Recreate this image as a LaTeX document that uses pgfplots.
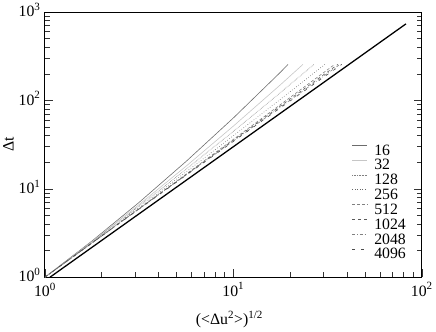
\documentclass[border=0pt]{standalone}
\usepackage{fontspec}
\setmainfont{Liberation Serif}
\usepackage{pgfplots}
\pgfplotsset{compat=1.18}

\begin{document}
\begin{tikzpicture}
\begin{axis}[
  scale only axis,
  width=381bp, height=268bp,
  xmode=log, ymode=log,
  xmin=1, xmax=100, ymin=1, ymax=1000,
  xtick={1,10,100}, ytick={1,10,100,1000},
  xticklabels={10\textsuperscript{0},10\textsuperscript{1},10\textsuperscript{2}},
  yticklabels={10\textsuperscript{0},10\textsuperscript{1},10\textsuperscript{2},10\textsuperscript{3}},
  tick label style={font=\fontsize{16}{17}\selectfont},
  xticklabel style={yshift=-2bp},
  yticklabel style={xshift=-1bp, yshift=2bp},
  xtick pos=bottom, ytick pos=both,
  tick align=inside,
  major tick length=8bp, minor tick length=5bp,
  axis line style={line width=0.8pt},
  every tick/.style={line width=0.6pt, black!80},
  xlabel={(<Δu\textsuperscript{2}>)\textsuperscript{1/2}},
  ylabel={Δt},
  label style={font=\fontsize{16}{17}\selectfont},
  xlabel style={yshift=-8bp, xshift=-4bp},
  ylabel style={yshift=-2bp},
  legend style={draw=none, fill=none, at={(0.814,0.50)}, anchor=north west,
    font=\fontsize{16}{17}\selectfont, row sep=4.7bp, column sep=7bp,
    inner sep=0pt, nodes={inner sep=0pt, text height=10bp, text depth=0bp}},
  legend cell align=left,
  legend image code/.code={\draw[#1] (0bp,5bp) -- (15bp,5bp);},
]
\addplot[gray!85!black, line width=0.6pt] coordinates {
  (1,1) (1.778,2.57) (3.162,7.03) (5.623,20.5) (10,63.4) (17.78,208.8) (19.5,256)
};
\addplot[gray!45, line width=0.6pt] coordinates {
  (1,1) (1.778,2.53) (3.162,6.64) (5.623,18.1) (10,51.3) (17.78,150.6) (23.4,256)
};
\addplot[gray, line width=0.6pt, densely dotted] coordinates {
  (1,1) (1.778,2.50) (3.162,6.39) (5.623,16.7) (10,44.8) (17.78,123) (26.8,256)
};
\addplot[gray!80!black, line width=0.6pt, dotted] coordinates {
  (1,1) (1.778,2.47) (3.162,6.17) (5.623,15.6) (10,39.9) (17.78,103.2) (30.6,256)
};
\addplot[gray, line width=0.6pt, densely dashed] coordinates {
  (1,1) (1.778,2.44) (3.162,5.99) (5.623,14.7) (10,36.3) (17.78,89.8) (34.5,256)
};
\addplot[gray!70!black, line width=0.6pt, dashed] coordinates {
  (1,1) (1.778,2.44) (3.162,5.96) (5.623,14.5) (10,35.5) (17.78,86.6) (35.9,256)
};
\addplot[gray, line width=0.6pt, dash dot] coordinates {
  (1,1) (1.778,2.44) (3.162,5.93) (5.623,14.4) (10,34.8) (17.78,84.2) (36.8,256)
};
\addplot[gray!60!black, line width=0.6pt, loosely dashed] coordinates {
  (1,1) (1.778,2.44) (3.162,5.91) (5.623,14.3) (10,34.4) (17.78,82.6) (37.6,256)
};
\addplot[black, line width=1.3pt, forget plot] coordinates {
  (1.064,1) (82.4,736)
};
\legend{16,32,128,256,512,1024,2048,4096}
\end{axis}
\end{tikzpicture}
\end{document}
